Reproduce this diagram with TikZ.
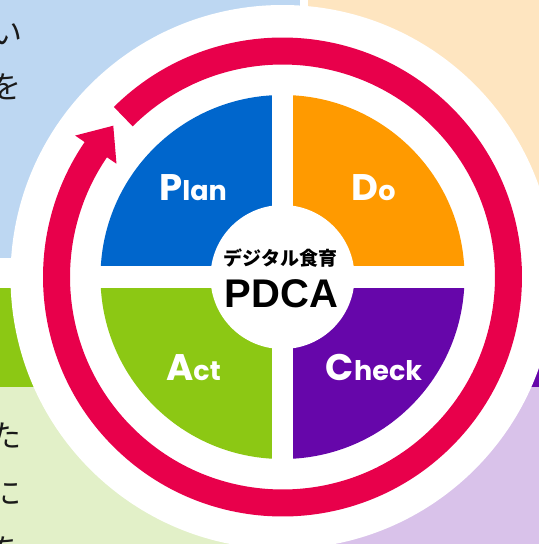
\documentclass[tikz,border=0pt]{standalone}
\usepackage{fontspec}
\newfontfamily\popfont{Poppins}
\newfontfamily\arialfont{Liberation Sans}
\newfontfamily\jpfont{Noto Sans CJK JP}
\usetikzlibrary{calc}
\definecolor{bgblue}{HTML}{BDD7F2}
\definecolor{bgpeach}{HTML}{FEE5C0}
\definecolor{bggreen}{HTML}{E2F0C8}
\definecolor{bgpurple}{HTML}{D9C2EA}
\definecolor{qblue}{HTML}{0066CC}
\definecolor{qorange}{HTML}{FF9A00}
\definecolor{qgreen}{HTML}{8CC814}
\definecolor{qpurple}{HTML}{6606AA}
\definecolor{ringred}{HTML}{E8004B}
\definecolor{textgray}{HTML}{1A1A1A}
\begin{document}
\begin{tikzpicture}[x=1pt,y=1pt,
  lab/.style={text=white, font=\popfont\bfseries, inner sep=0pt, anchor=base},
  sidetext/.style={text=textgray, font=\jpfont\fontsize{31}{31}\selectfont, inner sep=0pt, anchor=east}]
\useasboundingbox (0,0) rectangle (539,-544);
% background panels
\fill[bgblue] (0,0) rectangle (300,-258);
\fill[bgpeach] (308,0) rectangle (539,-258);
\fill[qgreen] (0,-288) rectangle (300,-387);
\fill[bggreen] (0,-387) rectangle (300,-544);
\fill[qpurple] (308,-288) rectangle (539,-387);
\fill[bgpurple] (308,-387) rectangle (539,-544);
% clipped text at left edge
\node[sidetext] (t1) at (23,-34) {い};
\node[sidetext] (t2) at (22,-87) {を};
\node[sidetext] (t3) at (22,-436) {た};
\node[sidetext] (t4) at (22,-493) {に};
\node[sidetext] (t5) at (22,-550) {を};
% big white disc
\coordinate (C) at (282.5,-277);
\fill[white] (C) circle (272);
% red cycle arrow
\draw[ringred, line width=27pt] ($(C)+(134.8:226)$) arc[start angle=134.8, end angle=-214.6, radius=226];
\fill[ringred] ($(C)+(145.7:251)$) -- ($(C)+(138.2:227)$) -- ($(C)+(145.7:201)$) -- cycle;
% quadrants
\begin{scope}
\clip (C) circle (182);
\fill[qblue] (C) rectangle ++(-190,190);
\fill[qorange] (C) rectangle ++(190,190);
\fill[qgreen] (C) rectangle ++(-190,-190);
\fill[qpurple] (C) rectangle ++(190,-190);
\end{scope}
\fill[white] ($(C)+(-10.5,-190)$) rectangle ($(C)+(10.5,190)$);
\fill[white] ($(C)+(-190,-11)$) rectangle ($(C)+(190,11)$);
\fill[white] (C) circle (72);
% labels
\node[lab] (plan) at (193,-200) {\fontsize{37}{37}\selectfont P\fontsize{27}{27}\selectfont lan};
\node[lab] (do) at (373.5,-200) {\fontsize{37}{37}\selectfont D\fontsize{27}{27}\selectfont o};
\node[lab] (act) at (193.5,-380) {\fontsize{37}{37}\selectfont A\fontsize{27}{27}\selectfont ct};
\node[lab] (check) at (374,-380) {\fontsize{37}{37}\selectfont C\fontsize{27}{27}\selectfont heck};
\node[font=\jpfont\bfseries\fontsize{19}{19}\selectfont, inner sep=0pt, text=black] (title) at (280.5,-258.5) {デジタル食育};
\node[font=\arialfont\bfseries\fontsize{40}{40}\selectfont, inner sep=0pt, anchor=base, text=black] (pdca) at (281.5,-307) {PDCA};
\end{tikzpicture}
\end{document}
